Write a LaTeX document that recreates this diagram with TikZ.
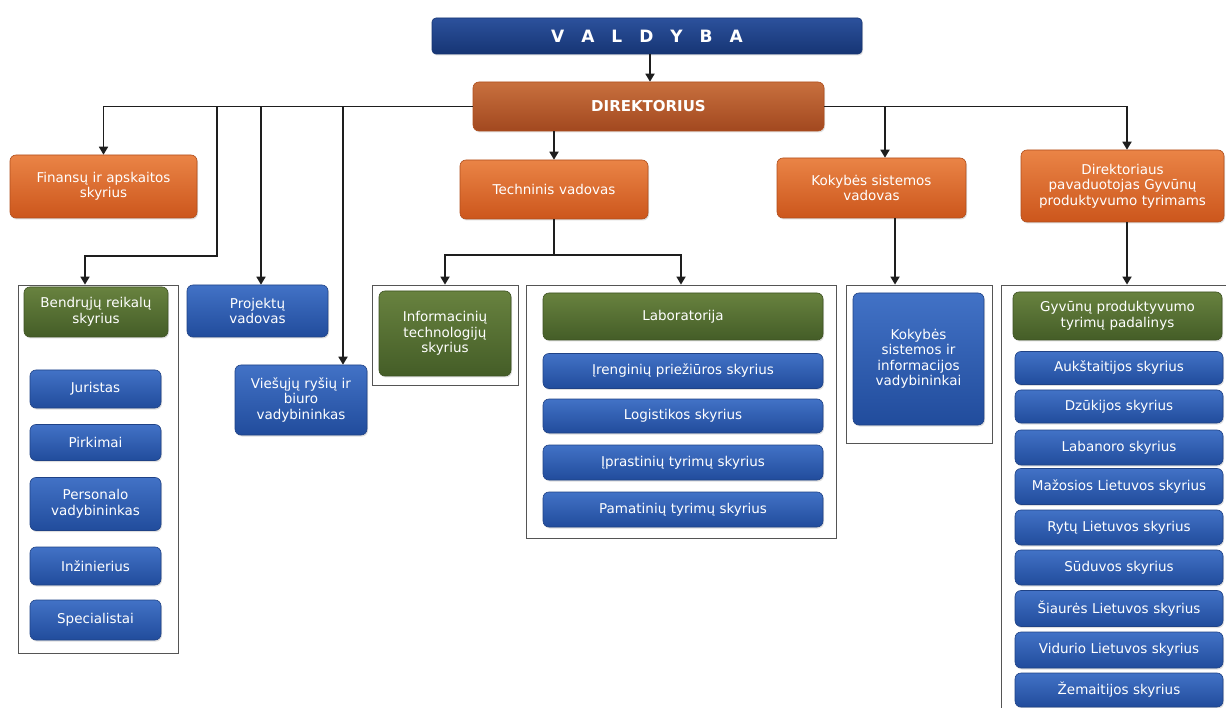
\documentclass[tikz,border=0pt]{standalone}
\usepackage{fontspec}
\setmainfont{DejaVu Sans}
\usetikzlibrary{arrows.meta,shadows}
\definecolor{orT}{HTML}{EA8446}
\definecolor{orB}{HTML}{CC561C}
\definecolor{orD}{HTML}{B04E1C}
\definecolor{drT}{HTML}{C8703E}
\definecolor{drB}{HTML}{A2481F}
\definecolor{blT}{HTML}{4272C6}
\definecolor{blB}{HTML}{214C9C}
\definecolor{blD}{HTML}{1F4286}
\definecolor{grT}{HTML}{68823F}
\definecolor{grB}{HTML}{445D27}
\definecolor{grD}{HTML}{3D5222}
\definecolor{nvT}{HTML}{2C519C}
\definecolor{nvB}{HTML}{163574}
\definecolor{ln}{HTML}{1E1E1E}
\definecolor{cont}{HTML}{555555}
\tikzset{
  base/.style={rounded corners=6pt, align=center, text=white, inner sep=1pt,
    font=\fontsize{13.5}{15.5}\selectfont,
    drop shadow={opacity=0.25, shadow xshift=1pt, shadow yshift=-1.5pt}},
  orbox/.style={base, top color=orT, bottom color=orB, draw=orD, line width=0.6pt},
  drbox/.style={base, top color=drT, bottom color=drB, draw=orD, line width=0.6pt},
  blbox/.style={base, top color=blT, bottom color=blB, draw=blD, line width=0.6pt},
  grbox/.style={base, top color=grT, bottom color=grB, draw=grD, line width=0.6pt},
  nvbox/.style={base, rounded corners=4pt, top color=nvT, bottom color=nvB, draw=nvB, line width=0.6pt},
  contbox/.style={draw=cont, line width=0.8pt, inner sep=0pt},
  conn/.style={draw=ln, line width=1.7pt},
  arr/.style={conn, -{Triangle[width=9pt,length=8pt]}},
}
\newcommand{\bx}[7]{\node[#1, minimum width=#5pt, minimum height=#6pt, text width=#5pt-4pt] (#2) at (#3,#4) {#7};}
\begin{document}
\begin{tikzpicture}[x=1pt,y=-1pt]
\useasboundingbox (0,0) rectangle (1226,708);
\fill[white] (0,0) rectangle (1226,708);

% containers
\node[contbox, minimum width=160pt, minimum height=368pt] (bcont) at (98,469) {};
\node[contbox, minimum width=146pt, minimum height=100pt] (itcont) at (445,335) {};
\node[contbox, minimum width=310pt, minimum height=253pt] (labcont) at (681,411.5) {};
\node[contbox, minimum width=146pt, minimum height=158pt] (kokcont) at (919,364) {};
\node[contbox, minimum width=240pt, minimum height=440pt] (rcont) at (1121,505) {};

% top level
\node[nvbox, minimum width=430pt, minimum height=36pt, font=\fontsize{17}{19}\selectfont\bfseries] (valdyba) at (647,36)
  {V\hspace{17pt}A\hspace{17pt}L\hspace{17pt}D\hspace{17pt}Y\hspace{17pt}B\hspace{17pt}A};
\node[drbox, minimum width=351pt, minimum height=49pt, font=\fontsize{15}{17}\selectfont\bfseries] (dir) at (648.5,106.5) {DIREKTORIUS};

\bx{orbox}{fin}{103.5}{186.5}{187}{63}{Finansų ir apskaitos\\skyrius}
\bx{orbox}{tech}{554}{189.5}{188}{59}{Techninis vadovas}
\bx{orbox}{kok}{871.5}{188}{189}{60}{Kokybės sistemos\\vadovas}
\bx{orbox}{pav}{1122.5}{186}{203}{72}{Direktoriaus\\pavaduotojas Gyvūnų\\produktyvumo tyrimams}

% left group
\bx{grbox}{bend}{96}{312}{144}{50}{Bendrųjų reikalų\\skyrius}
\bx{blbox}{jur}{95.5}{389}{131}{38}{Juristas}
\bx{blbox}{pirk}{95.5}{442.5}{131}{36}{Pirkimai}
\bx{blbox}{pers}{95.5}{504}{131}{53}{Personalo\\vadybininkas}
\bx{blbox}{inz}{95.5}{566}{131}{38}{Inžinierius}
\bx{blbox}{spec}{95.5}{620}{131}{40}{Specialistai}

\bx{blbox}{proj}{257.5}{311}{141}{52}{Projektų\\vadovas}
\bx{blbox}{vies}{301}{400}{132}{70}{Viešųjų ryšių ir\\biuro\\vadybininkas}

% technical
\bx{grbox}{itbox}{445}{333.5}{132}{85}{Informacinių\\technologijų\\skyrius}
\bx{grbox}{lab}{683}{316.5}{280}{47}{Laboratorija}
\bx{blbox}{iren}{683}{371}{280}{35}{Įrenginių priežiūros skyrius}
\bx{blbox}{logi}{683}{416}{280}{34}{Logistikos skyrius}
\bx{blbox}{ipr}{683}{462.5}{280}{35}{Įprastinių tyrimų skyrius}
\bx{blbox}{pam}{683}{509.5}{280}{35}{Pamatinių tyrimų skyrius}

% quality
\bx{blbox}{kokbox}{918.5}{359}{131}{132}{Kokybės\\sistemos ir\\informacijos\\vadybininkai}

% right group
\bx{grbox}{gyv}{1117.5}{316}{209}{48}{Gyvūnų produktyvumo\\tyrimų padalinys}
\bx{blbox}{auk}{1119}{368}{208}{33}{Aukštaitijos skyrius}
\bx{blbox}{dzu}{1119}{406.5}{208}{33}{Dzūkijos skyrius}
\bx{blbox}{labn}{1119}{447.5}{208}{35}{Labanoro skyrius}
\bx{blbox}{maz}{1119}{486.5}{208}{36}{Mažosios Lietuvos skyrius}
\bx{blbox}{ryt}{1119}{527.5}{208}{35}{Rytų Lietuvos skyrius}
\bx{blbox}{sud}{1119}{567.5}{208}{35}{Sūduvos skyrius}
\bx{blbox}{sia}{1119}{608.5}{208}{36}{Šiaurės Lietuvos skyrius}
\bx{blbox}{vid}{1119}{650}{208}{36}{Vidurio Lietuvos skyrius}
\bx{blbox}{zem}{1119}{690}{208}{34}{Žemaitijos skyrius}

% junction coordinates
\coordinate (j0) at (650,0);
\coordinate (j1) at (217,106.5);
\coordinate (j2) at (85,256);
\coordinate (j3) at (261,106.5);
\coordinate (j4) at (343,106.5);
\coordinate (j5) at (554,255);
\coordinate (j6) at (885,106.5);
\coordinate (j7) at (895,0);
\coordinate (j8) at (1127,0);

% connectors
\draw[arr] (valdyba.south -| j0) -- (dir.north -| j0);
\draw[arr] (dir.west) -| (fin.north);
\draw[arr] (j1) |- (j2) -- (bcont.north -| j2);
\draw[arr] (j3) -- (proj.north -| j3);
\draw[arr] (j4) -- (vies.north -| j4);
\draw[arr] (dir.south -| tech.north) -- (tech.north);
\draw[conn] (tech.south) -- (j5);
\draw[arr] (j5) -| (itcont.north);
\draw[arr] (j5) -| (labcont.north);
\draw[arr] (dir.east) -| (pav.north -| j8);
\draw[arr] (j6) -- (kok.north -| j6);
\draw[arr] (kok.south -| j7) -- (kokcont.north -| j7);
\draw[arr] (pav.south -| j8) -- (rcont.north -| j8);
\end{tikzpicture}
\end{document}
